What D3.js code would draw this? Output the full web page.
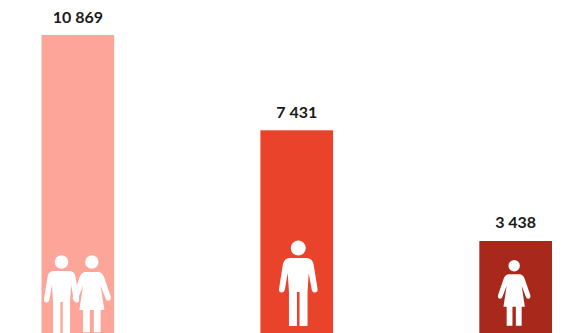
<!DOCTYPE html>
<html>
<head>
<meta charset="utf-8">
<script src="https://cdn.jsdelivr.net/npm/d3@7"></script>
<style>
html,body{margin:0;padding:0;background:#fff;overflow:hidden}
text{font-family:Lato,"Open Sans",sans-serif;font-weight:700;fill:#1a1a1a}
</style>
</head>
<body>
<svg id="c" width="578" height="333"></svg>
<script>
const categories = ["Total", "Men", "Women"];
const values = [10869, 7431, 3438];
const valueLabels = ["10 869", "7 431", "3 438"];
const barColors = ["#FDA599", "#E9432B", "#A9281C"];

const svg = d3.select("#c");
const x = d3.scaleBand().domain(categories).range([41.5, 552]).paddingInner(0.668).paddingOuter(0);
const y = d3.scaleLinear().domain([0, 10869]).range([336.3, 35]);

svg.selectAll("rect.bar").data(categories).join("rect")
  .attr("class", "bar")
  .attr("x", d => x(d))
  .attr("width", x.bandwidth())
  .attr("y", (d, i) => y(values[i]))
  .attr("height", (d, i) => y(0) - y(values[i]))
  .attr("fill", (d, i) => barColors[i]);

svg.selectAll("text.val").data(categories).join("text")
  .attr("class", "val")
  .attr("x", d => x(d) + x.bandwidth() / 2)
  .attr("y", (d, i) => y(values[i]) - 12.5)
  .attr("text-anchor", "middle")
  .attr("font-size", 16)
  .text((d, i) => valueLabels[i]);

// Pictogram shapes, head centre at the origin
const manBody = "M-8,10 L8,10 Q14,10 15.3,16 L19.3,41 Q19.5,44.5 16.5,44.5 Q14,44.5 13.3,41 L10.5,25 L9.3,44 L9.3,78 L1.3,78 L1.3,44 L-1.3,44 L-1.3,78 L-9.3,78 L-9.3,44 L-10.5,25 L-13.3,41 Q-14,44.5 -16.5,44.5 Q-19.5,44.5 -19.3,41 L-15.3,16 Q-14,10 -8,10 Z";
const womanBody = "M-5,8.5 L5,8.5 Q9,8.5 10.5,13 L16,29 Q17,32.5 14.5,33 Q12.5,33.5 11.5,30.5 L7.5,20 L10.7,41 L7.5,41 L7.5,60 L1.7,60 L1.7,41 L-1.7,41 L-1.7,60 L-7.5,60 L-7.5,41 L-10.7,41 L-7.5,20 L-11.5,30.5 Q-12.5,33.5 -14.5,33 Q-17,32.5 -16,29 L-10.5,13 Q-9,8.5 -5,8.5 Z";

function person(kind, cx, cy, s) {
  const g = svg.append("g").attr("transform", `translate(${cx},${cy}) scale(${s})`).attr("fill", "#fff");
  g.append("circle").attr("r", kind === "man" ? 7.5 : 5.7);
  g.append("path").attr("d", kind === "man" ? manBody : womanBody);
}

const mid = c => x(c) + x.bandwidth() / 2;
person("man", mid("Total") - 16.3, 262, 0.91);
person("woman", mid("Total") + 14, 262, 1.17);
person("man", mid("Men") + 1.5, 248, 1);
person("woman", mid("Women") - 1.5, 265.7, 1);
</script>
</body>
</html>
